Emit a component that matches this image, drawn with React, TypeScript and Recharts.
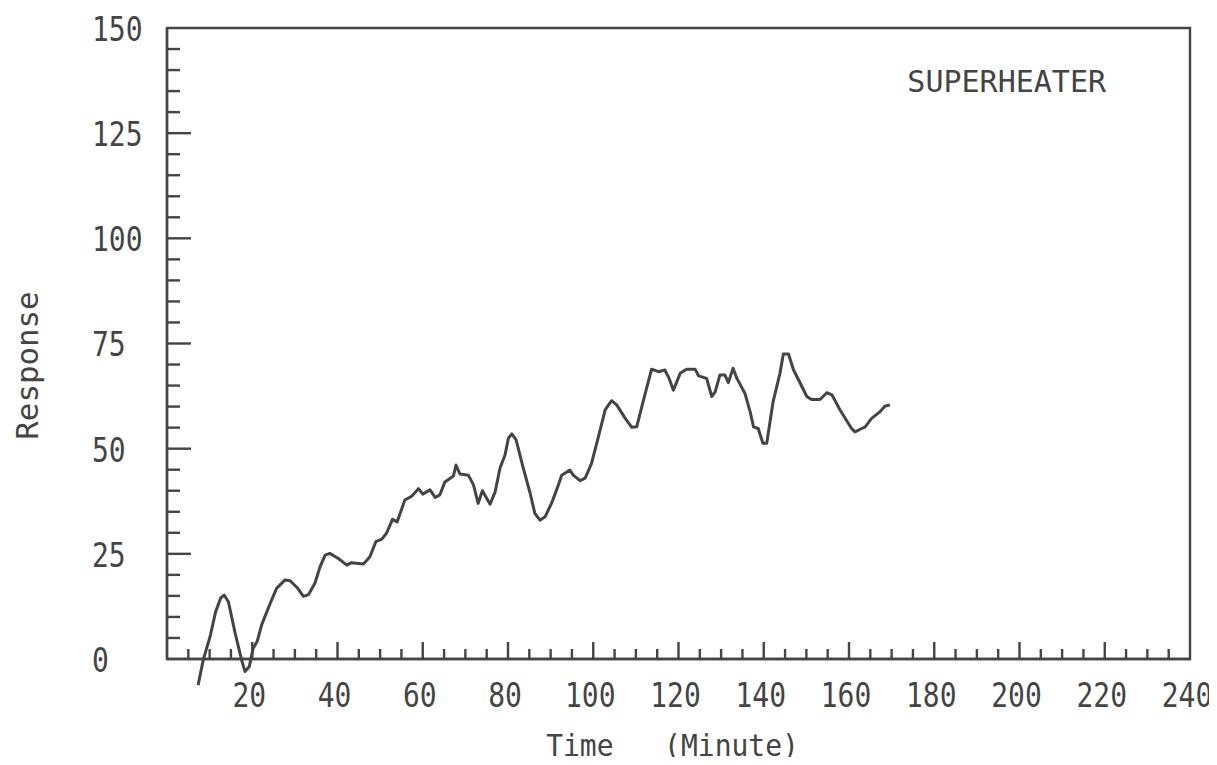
import React from 'react';
import { LineChart, Line, XAxis, YAxis, ReferenceArea, ReferenceDot } from 'recharts';

const times = [
  7.3, 8.5, 10.1, 11.4, 12.6, 13.4, 14.4, 16.0, 17.5, 18.3, 19.3, 20.2, 21.2, 22.2, 24.2, 25.7, 27.7, 28.9,
  30.5, 32.0, 33.2, 34.7, 35.9, 37.1, 38.2, 40.2, 42.2, 43.3, 46.1, 47.6, 49.0, 50.4, 51.5, 52.9, 54.0,
  55.8, 57.4, 59.0, 60.0, 61.7, 62.9, 64.0, 65.2, 67.2, 67.8, 68.7, 70.7, 71.9, 73.0, 74.0, 75.8, 77.0,
  78.1, 79.3, 80.1, 80.9, 81.9, 83.6, 85.2, 86.3, 87.5, 88.7, 90.2, 91.4, 92.6, 94.5, 95.3, 96.9, 98.1,
  99.6, 101.2, 102.8, 104.3, 105.5, 107.5, 109.0, 110.2, 111.8, 113.7, 115.3, 116.8, 117.8, 118.8, 120.4,
  121.9, 123.9, 124.7, 126.6, 127.8, 128.6, 129.7, 130.9, 131.7, 132.8, 133.7, 135.6, 136.8, 137.6, 138.7,
  139.8, 140.7, 142.2, 143.8, 144.6, 145.8, 147.0, 148.6, 150.1, 151.2, 153.2, 154.8, 156.0, 157.9, 160.6,
  161.4, 163.0, 163.8, 165.3, 167.3, 168.4, 169.6,
];

const responses = [
  -6.2, -0.2, 5.3, 11.2, 14.5, 15.2, 13.6, 6.1, -0.2, -3.0, -1.8, 2.5, 4.3, 8.1, 13.2, 16.8, 18.8, 18.6,
  17.0, 14.9, 15.3, 18.0, 21.9, 24.7, 25.1, 23.9, 22.3, 22.9, 22.6, 24.3, 27.9, 28.5, 29.9, 33.2, 32.6,
  37.8, 38.7, 40.5, 39.2, 40.2, 38.4, 39.0, 42.1, 43.5, 46.1, 44.0, 43.7, 41.4, 37.0, 40.0, 36.8, 39.8,
  45.3, 48.5, 52.5, 53.5, 52.1, 45.3, 39.4, 34.6, 33.0, 33.8, 37.0, 40.2, 43.7, 44.9, 43.7, 42.4, 43.0,
  46.5, 52.8, 59.2, 61.4, 60.4, 57.2, 55.1, 55.2, 61.6, 68.9, 68.3, 68.7, 66.7, 63.9, 67.9,
  68.9, 68.9, 67.3, 66.7, 62.4, 63.5, 67.5, 67.5, 65.7, 69.1, 66.7, 63.1, 58.8, 55.2, 54.8,
  51.3, 51.3, 61.2, 67.9, 72.5, 72.5, 68.7, 65.5, 62.4, 61.7, 61.7, 63.3, 62.8, 59.2, 54.8,
  54.0, 54.8, 55.2, 57.2, 58.8, 60.1, 60.4,
];

const xTicks = Array.from({ length: 49 }, (_, i) => i * 5);
const yTicks = Array.from({ length: 31 }, (_, i) => i * 5);
const xLabelStep = 20;
const yLabelStep = 25;

const title = 'SUPERHEATER';
const xTitle = 'Time   (Minute)';
const yTitle = 'Response';

const data = times.map((t, i) => ({ t, v: responses[i] }));

const INK = '#444444';
const FONT = '"DejaVu Sans Mono", monospace';

const XTick = (props: any) => {
  const { x, y, payload } = props;
  const v = payload.value;
  const major = v % xLabelStep === 0;
  return (
    <g>
      {v > 0 && v < 240 && (
        <line x1={x} x2={x} y1={y} y2={y - (major ? 17 : 10)} stroke={INK} strokeWidth={2.4} />
      )}
      {major && v > 0 && (
        <text
          transform={`translate(${x - 3},${y + 36}) scale(1,1.2)`}
          textAnchor="middle"
          dominantBaseline="central"
          fontFamily={FONT}
          fontSize={28}
          fill={INK}
        >
          {v}
        </text>
      )}
    </g>
  );
};

const YTick = (props: any) => {
  const { x, y, payload } = props;
  const v = payload.value;
  const major = v % yLabelStep === 0;
  return (
    <g>
      {v > 0 && v < 150 && (
        <line x1={x} x2={x + (major ? 24 : 13)} y1={y} y2={y} stroke={INK} strokeWidth={2.4} />
      )}
      {major && (
        <text
          transform={`translate(${x - 75},${y + 1}) scale(1,1.2)`}
          textAnchor="start"
          dominantBaseline="central"
          fontFamily={FONT}
          fontSize={28}
          fill={INK}
        >
          {v}
        </text>
      )}
    </g>
  );
};

const XTitle = (props: any) => {
  const vb = props.viewBox || {};
  const cx = vb.x + vb.width / 2 - 6;
  const cy = vb.y + 87;
  return (
    <text
      transform={`translate(${cx},${cy}) scale(1,1.1)`}
      textAnchor="middle"
      dominantBaseline="central"
      fontFamily={FONT}
      fontSize={28}
      fill={INK}
      style={{ whiteSpace: 'pre' }}
    >
      {xTitle}
    </text>
  );
};

const YTitle = (props: any) => {
  const vb = props.viewBox || {};
  const cx = vb.x + 19;
  const cy = vb.y + vb.height / 2 + 22;
  return (
    <text
      transform={`translate(${cx},${cy}) rotate(-90) scale(1.1,1.1)`}
      textAnchor="middle"
      dominantBaseline="central"
      fontFamily={FONT}
      fontSize={28}
      fill={INK}
    >
      {yTitle}
    </text>
  );
};

export default function App() {
  return (
    <div style={{ width: 1209, height: 749, background: '#ffffff' }}>
      <style>
        {'.recharts-wrapper [clip-path]{clip-path:none !important;} .recharts-surface{overflow:visible !important;}'}
      </style>
      <LineChart width={1209} height={749} data={data} margin={{ top: 20, right: 27, bottom: 0, left: 0 }}>
        <XAxis
          dataKey="t"
          type="number"
          domain={[0, 240]}
          ticks={xTicks}
          interval={0}
          tickSize={0}
          tickMargin={0}
          height={98}
          axisLine={{ stroke: INK, strokeWidth: 2.4 }}
          tickLine={false}
          tick={(p: any) => <XTick {...p} />}
          label={{ content: (p: any) => <XTitle {...p} /> }}
        />
        <YAxis
          type="number"
          domain={[0, 150]}
          allowDataOverflow
          ticks={yTicks}
          interval={0}
          tickSize={0}
          tickMargin={0}
          width={159}
          axisLine={{ stroke: INK, strokeWidth: 2.4 }}
          tickLine={false}
          tick={(p: any) => <YTick {...p} />}
          label={{ content: (p: any) => <YTitle {...p} /> }}
        />
        <ReferenceArea x1={0} x2={240} y1={0} y2={150} fill="none" stroke={INK} strokeWidth={2.4} fillOpacity={0} />
        <ReferenceDot
          x={197}
          y={137.4}
          r={0}
          fill="none"
          stroke="none"
          label={{ value: title, position: 'center', fontFamily: FONT, fontSize: 30, fill: INK }}
        />
        <Line
          type="linear"
          dataKey="v"
          stroke={INK}
          strokeWidth={3}
          strokeLinejoin="round"
          dot={false}
          activeDot={false}
          isAnimationActive={false}
        />
      </LineChart>
    </div>
  );
}
